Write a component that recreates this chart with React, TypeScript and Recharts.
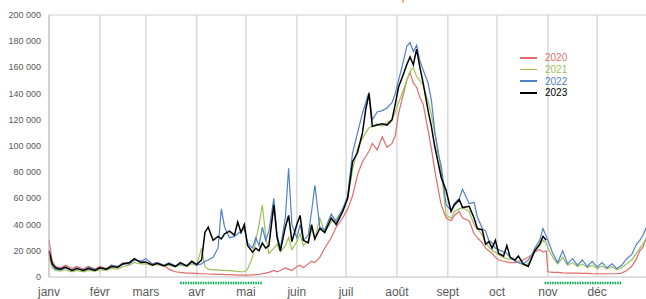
import { LineChart, Line, XAxis, YAxis, CartesianGrid, ReferenceLine, Legend } from "recharts"

// day of year (0 = 1 janv) for every sampled point
const DAYS = [
  0, 2, 4, 7, 10, 14, 17, 21, 24, 28, 31, 35, 38, 42, 45, 49, 52, 56, 59, 63,
  66, 70, 73, 77, 80, 84, 87, 90, 93, 95, 97, 100, 103, 105, 107, 110, 113, 115, 117, 119,
  121, 124, 126, 128, 130, 132, 134, 137, 139, 141, 144, 146, 148, 151, 153, 155, 158, 160, 162, 165,
  168, 172, 175, 179, 182, 185, 188, 191, 193, 195, 197, 200, 203, 206, 209, 211, 213, 216, 218, 220,
  222, 224, 226, 228, 231, 233, 235, 237, 239, 242, 245, 247, 250, 252, 256, 259, 261, 264, 266, 268,
  270, 272, 274, 277, 279, 281, 284, 286, 289, 292, 294, 296, 299, 301, 303, 304, 307, 310, 313, 316,
  319, 322, 325, 328, 331, 334, 337, 340, 343, 346, 349, 352, 355, 358, 360, 362, 364,
]

// values in thousands
const Y2020 = [
  28, 12, 8, 7, 9, 6.5, 8, 6, 8, 6, 8, 6.5, 9, 8, 11, 10, 13, 12, 11, 10,
  11, 9, 6, 4, 3.5, 3, 3, 2.8, 2.5, 2.5, 2.3, 2.2, 2, 2, 1.8, 1.8, 1.6, 1.5, 1.5, 1.5,
  1.5, 1.6, 1.8, 2, 2.5, 3, 3.5, 5, 4, 5, 7, 6, 5, 8, 9, 7, 10, 12, 11, 15,
  22, 30, 38, 45, 52, 62, 78, 88, 92, 96, 102, 97, 107, 99, 102, 108, 125, 140, 150, 156,
  148, 145, 137, 132, 112, 98, 82, 68, 55, 45, 43, 47, 50, 45, 43, 33, 30, 26, 22, 20,
  18, 15, 13, 12, 11.5, 11, 11, 12, 13, 15, 17, 19, 21, 19, 20, 4, 3.5, 3.5, 3.2, 3,
  3, 3, 2.8, 2.8, 2.6, 2.5, 2.5, 2.5, 2.5, 2.5, 3, 5, 8, 14, 20, 23, 30,
]

const Y2021 = [
  15, 7, 5, 4.5, 5.5, 4, 5, 4, 5, 4.5, 5.5, 5, 6.5, 6, 8, 9, 11, 10, 10, 9,
  9.5, 8.5, 9, 8, 9, 8, 10, 9, 22, 8, 6, 5.5, 5.5, 5, 5, 4.8, 4.5, 4.3, 4, 4,
  6, 15, 28, 40, 55, 32, 18, 22, 25, 19, 24, 30, 21, 27, 33, 24, 28, 36, 29, 45,
  34, 42, 44, 52, 60, 82, 98, 106, 110, 114, 115, 117, 115, 118, 120, 126, 133, 143, 150, 157,
  160, 153, 150, 146, 134, 124, 110, 98, 80, 47, 45, 50, 52, 53, 50, 40, 37, 32, 26, 23,
  20, 19, 17, 15, 14, 13.5, 13, 11, 9, 10, 14, 20, 24, 28, 26, 22, 15, 10, 15, 9,
  11, 8, 10, 7, 9, 6.5, 8.5, 6, 8, 5.5, 7, 10, 13, 18, 22, 25, 30,
]

const Y2022 = [
  18, 9, 6, 5.5, 7, 5, 7, 5, 7.5, 5.5, 7, 6, 9, 8, 10, 10, 13, 12, 14, 10,
  11, 9, 11, 8.5, 10, 8.5, 11, 9, 10, 12, 13, 15, 22, 52, 38, 30, 31, 33, 35, 37,
  26, 22, 30, 24, 38, 28, 35, 60, 32, 22, 45, 83, 40, 30, 40, 28, 32, 50, 70, 38,
  36, 48, 42, 52, 62, 95, 110, 125, 133, 141, 120, 126, 127, 129, 133, 140, 150, 165, 176, 179,
  172, 177, 165, 158, 148, 135, 112, 95, 85, 55, 51, 56, 60, 67, 56, 57, 46, 37, 35, 28,
  26, 22, 21, 19, 18, 15, 12, 11, 10, 13, 16, 22, 28, 37, 31, 28, 18, 11, 20, 10,
  14, 9, 13, 8, 12, 7.5, 11, 7, 10, 6.5, 9, 14, 17, 25, 28, 32, 38,
]

// 2023 stops at the end of October
const Y2023 = [
  20, 10, 7, 6, 7.5, 5, 6.5, 5, 6.5, 5, 7, 6, 8, 7.5, 10, 11, 14, 11, 11.5, 9,
  10.5, 8.5, 10, 8, 11, 8.5, 12, 9.5, 13, 34, 38, 28, 31, 29, 33, 35, 32, 42, 34, 40,
  24, 19, 22, 20, 26, 22, 24, 55, 30, 20, 38, 47, 27, 40, 47, 28, 26, 40, 29, 37,
  34, 45, 40, 50, 60, 88, 95, 110, 128, 140, 115, 116, 117, 116, 120, 132, 145, 155, 162, 168,
  162, 174, 160, 148, 127, 115, 100, 88, 76, 66, 50, 55, 59, 53, 54, 45, 37, 36, 25, 27,
  22, 28, 18, 16, 24, 15, 13, 16, 10, 8, 14, 20, 25, 31, 28,
]

const MONTH_STARTS = [0, 31, 59, 90, 120, 151, 181, 212, 243, 273, 304, 334]
const MONTH_LABELS = ["janv", "févr", "mars", "avr", "mai", "juin", "juil", "août", "sept", "oct", "nov", "déc"]
const Y_TICKS = [0, 20, 40, 60, 80, 100, 120, 140, 160, 180, 200]

// green dotted periods under the axis (start day, end day)
const PERIODS = [
  [80, 130],
  [302, 349],
]

const SERIES = [
  { key: "2020", color: "#e06c6c", width: 1.2 },
  { key: "2021", color: "#9bc25a", width: 1.2 },
  { key: "2022", color: "#4f81c7", width: 1.2 },
  { key: "2023", color: "#000000", width: 1.5 },
]

const FONT = '"Liberation Sans", Arial, sans-serif'

const data = DAYS.map((day, i) => ({
  day,
  "2020": Y2020[i],
  "2021": Y2021[i],
  "2022": Y2022[i],
  "2023": i < Y2023.length ? Y2023[i] : null,
}))

function YTick({ x, y, payload }: any) {
  const v = payload.value
  return (
    <text x={x} y={y} dy={3} textAnchor="end" fill="#595959" fontSize={9} fontFamily={FONT}>
      {v === 0 ? "0" : `${v} 000`}
    </text>
  )
}

function XTick({ x, y, payload }: any) {
  return (
    <text x={x} y={y} dy={11} textAnchor="middle" fill="#595959" fontSize={12} fontFamily={FONT}>
      {MONTH_LABELS[MONTH_STARTS.indexOf(payload.value)]}
    </text>
  )
}

function LegendBox() {
  return (
    <div style={{ fontFamily: FONT, fontSize: 10 }}>
      {SERIES.map((s) => (
        <div key={s.key} style={{ display: "flex", alignItems: "center", height: 11.7 }}>
          <span style={{ display: "inline-block", width: 17, height: s.key === "2023" ? 2 : 1.5, background: s.color, marginRight: 8 }} />
          <span style={{ color: s.color }}>{s.key}</span>
        </div>
      ))}
    </div>
  )
}

export default function App() {
  return (
    <div style={{ position: "fixed", left: 0, top: 0, width: 646, height: 299, overflow: "hidden", background: "#fff" }}>
      <svg width={646} height={10} style={{ position: "absolute", left: 0, top: 0 }}>
        <text x={401} y={0} fill="#ed7d31" fontSize={14} fontWeight="bold" fontFamily={FONT}>,</text>
      </svg>
      <LineChart width={650} height={299} data={data} margin={{ top: 15, right: 2, bottom: 0, left: 0 }}>
        <CartesianGrid horizontal={false} stroke="#dadada" strokeWidth={1.5} />
        <XAxis
          dataKey="day"
          type="number"
          domain={[0, 365]}
          ticks={MONTH_STARTS}
          interval={0}
          height={22}
          tickLine={false}
          axisLine={{ stroke: "#bfbfbf" }}
          tick={<XTick />}
        />
        <YAxis
          domain={[0, 200]}
          ticks={Y_TICKS}
          interval={0}
          width={49}
          tickLine={false}
          axisLine={{ stroke: "#bfbfbf" }}
          tick={<YTick />}
        />
        <ReferenceLine y={200} stroke="#cfcfcf" />
        {PERIODS.map(([a, b]) => (
          <ReferenceLine
            key={a}
            segment={[{ x: a, y: -4.6 }, { x: b, y: -4.6 }]}
            ifOverflow="visible"
            stroke="#00b050"
            strokeWidth={2.5}
            strokeDasharray="1.5 1"
          />
        ))}
        {SERIES.map((s) => (
          <Line
            key={s.key}
            type="linear"
            dataKey={s.key}
            stroke={s.color}
            strokeWidth={s.width}
            dot={false}
            activeDot={false}
            isAnimationActive={false}
          />
        ))}
        <Legend
          layout="vertical"
          align="center"
          verticalAlign="middle"
          content={() => <LegendBox />}
          wrapperStyle={{ left: 520, top: 52, width: 60 }}
        />
      </LineChart>
    </div>
  )
}
